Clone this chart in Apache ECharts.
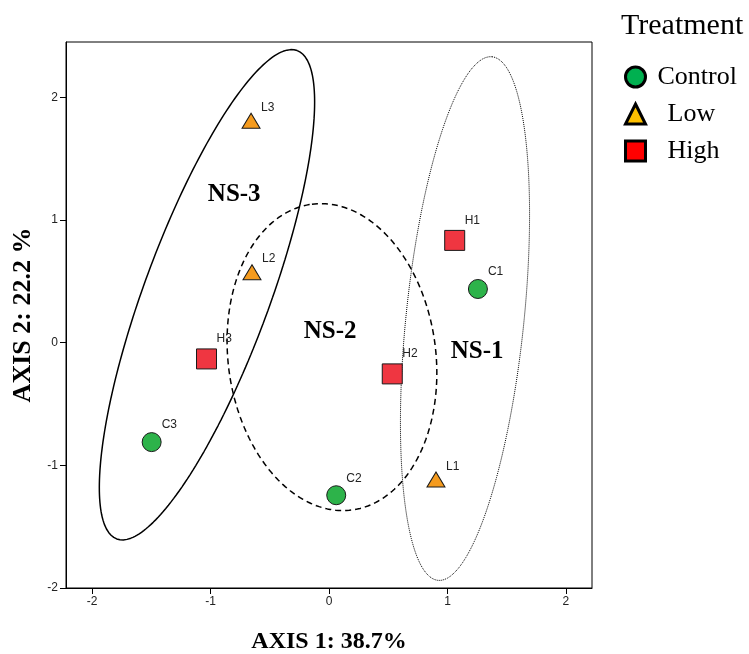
<!DOCTYPE html>
<html>
<head>
<meta charset="utf-8">
<script src="https://cdn.jsdelivr.net/npm/echarts@6/dist/echarts.min.js"></script>
<style>
  html, body { margin: 0; padding: 0; background: #fff; }
  #chart { width: 749px; height: 654px; }
</style>
</head>
<body>
<div id="chart"></div>
<script>
// sample scores on the two ordination axes
const controlNames = ['C1', 'C2', 'C3']
const controlX = [1.257, 0.061, -1.497]
const controlY = [0.437, -1.244, -0.811]

const lowNames = ['L1', 'L2', 'L3']
const lowX = [0.903, -0.650, -0.658]
const lowY = [-1.116, 0.574, 1.808]

const highNames = ['H1', 'H2', 'H3']
const highX = [1.061, 0.534, -1.034]
const highY = [0.833, -0.255, -0.133]

// tick labels
const xTicks = [-2, -1, 0, 1, 2]
const yTicks = [-2, -1, 0, 1, 2]

// group ellipses: centre, major half-axis vector, minor half-axis vector (data units)
const ellipseNames = ['NS-1', 'NS-2', 'NS-3']
const ellipseCenter = [[1.148, 0.196], [0.025, -0.118], [-1.030, 0.390]]
const ellipseMajor = [[0.228, 2.134], [-0.169, 1.246], [0.762, 1.990]]
const ellipseMinor = [[0.495, -0.049], [0.869, 0.110], [0.495, -0.180]]
const ellipseLine = ['dotted', [6, 4], 'solid']
const ellipseWidth = [1, 1.5, 1.5]

// group labels
const groupLabelX = [1.25, 0.01, -0.80]
const groupLabelY = [-0.07, 0.09, 1.21]

const serif = '"Liberation Serif", "Times New Roman", serif'
const sans = '"Liberation Sans", Arial, sans-serif'

const chart = echarts.init(document.getElementById('chart'))

function zip(xs, ys, names) {
  return xs.map((x, i) => ({ value: [x, ys[i]], name: names ? names[i] : '' }))
}

function outline(k) {
  const pts = []
  const [cx, cy] = ellipseCenter[k]
  const [mx, my] = ellipseMajor[k]
  const [nx, ny] = ellipseMinor[k]
  for (let i = 0; i <= 240; i++) {
    const t = (i / 240) * Math.PI * 2
    pts.push([cx + mx * Math.cos(t) + nx * Math.sin(t), cy + my * Math.cos(t) + ny * Math.sin(t)])
  }
  return pts
}

const pointLabel = (dy) => ({
  show: true,
  position: 'inside',
  align: 'left',
  verticalAlign: 'middle',
  offset: [10, dy],
  formatter: p => p.name,
  fontFamily: sans,
  fontSize: 12,
  color: '#222'
})

const ellipseSeries = ellipseNames.map((n, k) => ({
  name: n,
  type: 'line',
  data: outline(k),
  symbol: 'none',
  silent: true,
  z: 1,
  lineStyle: { color: '#000', width: ellipseWidth[k], type: ellipseLine[k] }
}))

const option = {
  animation: false,
  title: {
    text: 'Treatment',
    left: 616,
    top: 6,
    textStyle: { fontFamily: serif, fontWeight: 'normal', fontSize: 30, color: '#000' }
  },
  legend: {
    orient: 'vertical',
    left: 619,
    top: 59,
    itemWidth: 20,
    itemHeight: 20,
    itemGap: 11,
    data: [
      { name: 'Control', icon: 'circle', itemStyle: { color: '#00b050', borderColor: '#000', borderWidth: 3 } },
      { name: 'Low', icon: 'triangle', itemStyle: { color: '#ffc000', borderColor: '#000', borderWidth: 3 } },
      { name: 'High', icon: 'rect', itemStyle: { color: '#ff0000', borderColor: '#000', borderWidth: 3 } }
    ],
    formatter: name => name === 'Control' ? '{a|' + name + '}' : '{b|' + name + '}',
    textStyle: {
      fontFamily: serif,
      fontSize: 26,
      color: '#000',
      rich: {
        a: { fontFamily: serif, fontSize: 26, color: '#000', padding: [0, 0, 0, 7] },
        b: { fontFamily: serif, fontSize: 26, color: '#000', padding: [0, 0, 0, 17] }
      }
    }
  },
  grid: {
    left: 66,
    right: 157,
    top: 42,
    bottom: 66,
    outerBoundsMode: 'none',
    containLabel: false,
    show: true,
    borderColor: '#000',
    borderWidth: 1
  },
  xAxis: {
    type: 'value',
    min: -2.22,
    max: 2.22,
    name: 'AXIS 1: 38.7%',
    nameLocation: 'middle',
    nameGap: 42,
    nameTextStyle: { fontFamily: serif, fontWeight: 'bold', fontSize: 24, color: '#000' },
    axisLine: { onZero: false, lineStyle: { color: '#000' } },
    axisTick: { show: true, length: 6, customValues: xTicks, lineStyle: { color: '#000' } },
    axisLabel: { customValues: xTicks, fontFamily: sans, fontSize: 12, color: '#222', margin: 8 },
    splitLine: { show: false }
  },
  yAxis: {
    type: 'value',
    min: -2,
    max: 2.45,
    name: 'AXIS 2: 22.2 %',
    nameLocation: 'middle',
    nameGap: 30,
    nameTextStyle: { fontFamily: serif, fontWeight: 'bold', fontSize: 26, color: '#000' },
    axisLine: { onZero: false, lineStyle: { color: '#000' } },
    axisTick: { show: true, length: 6, customValues: yTicks, lineStyle: { color: '#000' } },
    axisLabel: { customValues: yTicks, fontFamily: sans, fontSize: 12, color: '#222', margin: 8 },
    splitLine: { show: false }
  },
  series: [
    ...ellipseSeries,
    {
      name: 'groups',
      type: 'scatter',
      silent: true,
      symbolSize: 0.01,
      itemStyle: { color: '#000', opacity: 1 },
      data: zip(groupLabelX, groupLabelY, ellipseNames),
      label: {
        show: true,
        position: 'inside',
        formatter: p => p.name,
        fontFamily: serif,
        fontWeight: 'bold',
        fontSize: 25,
        color: '#000',
        opacity: 1
      },
      z: 2
    },
    {
      name: 'Control',
      type: 'scatter',
      symbol: 'circle',
      symbolSize: 19,
      data: zip(controlX, controlY, controlNames),
      itemStyle: { color: '#2db34a', borderColor: '#1a1a1a', borderWidth: 1, opacity: 1 },
      label: pointLabel(-17),
      z: 3
    },
    {
      name: 'Low',
      type: 'scatter',
      symbol: 'triangle',
      symbolSize: [18, 15],
      data: zip(lowX, lowY, lowNames),
      itemStyle: { color: '#f59b1e', borderColor: '#1a1a1a', borderWidth: 1, opacity: 1 },
      label: pointLabel(-13),
      z: 3
    },
    {
      name: 'High',
      type: 'scatter',
      symbol: 'rect',
      symbolSize: 20,
      data: zip(highX, highY, highNames),
      itemStyle: { color: '#ef3641', borderColor: '#1a1a1a', borderWidth: 1, opacity: 1 },
      label: pointLabel(-20),
      z: 3
    }
  ]
}

chart.setOption(option)
</script>
</body>
</html>
